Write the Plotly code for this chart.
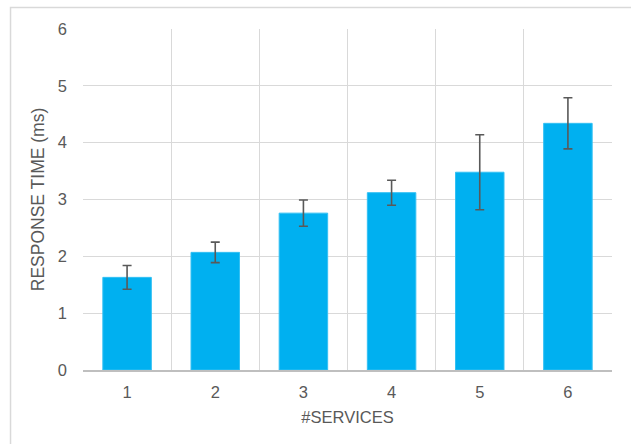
import plotly.graph_objects as go

services = [1, 2, 3, 4, 5, 6]
tick_labels = ["1", "2", "3", "4", "5", "6"]
response_ms = [1.63, 2.07, 2.76, 3.12, 3.48, 4.34]
error_ms = [0.21, 0.18, 0.23, 0.22, 0.66, 0.45]

TEXT = "#595959"
GRID = "#d9d9d9"
FONT = "Liberation Sans, Arial, sans-serif"

fig = go.Figure()
fig.add_trace(go.Bar(
    x=services,
    y=response_ms,
    width=0.55,
    marker=dict(color="#00B0F0", line=dict(color="#33c0f3", width=1)),
    error_y=dict(type="data", array=error_ms, visible=True,
                 color=TEXT, thickness=1.6, width=4.5),
))

fig.update_layout(
    width=631, height=444,
    margin=dict(l=83, r=19, t=29, b=74),
    paper_bgcolor="white", plot_bgcolor="white",
    font=dict(family=FONT, color=TEXT, size=16),
    showlegend=False,
    xaxis=dict(
        range=[0.5, 6.5],
        tickmode="array", tickvals=services, ticktext=tick_labels,
        showgrid=False, zeroline=False,
        showline=True, linecolor="#bfbfbf", linewidth=2,
        ticks="", tickfont=dict(size=16.5, color=TEXT),
        ticklabelstandoff=6,
        minor=dict(tickmode="linear", tick0=0.5, dtick=1,
                   showgrid=True, gridcolor=GRID, gridwidth=1.2, ticks=""),
        title=dict(text="#SERVICES", font=dict(size=16.5, color=TEXT), standoff=12),
    ),
    yaxis=dict(
        range=[0, 6], dtick=1,
        showgrid=True, gridcolor=GRID, gridwidth=1.2,
        zeroline=False, showline=False,
        ticks="", tickfont=dict(size=16.5, color=TEXT),
        ticklabelstandoff=15,
        title=dict(text="RESPONSE TIME (ms)", font=dict(size=17.5, color=TEXT), standoff=8),
    ),
    shapes=[dict(type="rect", xref="paper", yref="paper",
                 x0=-0.137, x1=1.2, y0=-0.6, y1=1.063,
                 line=dict(color=GRID, width=1.5), fillcolor="rgba(0,0,0,0)",
                 layer="below")],
)

fig.write_html("out.html", config={"displayModeBar": False},
               post_script="document.body.style.margin='0';document.body.style.overflow='hidden';")
